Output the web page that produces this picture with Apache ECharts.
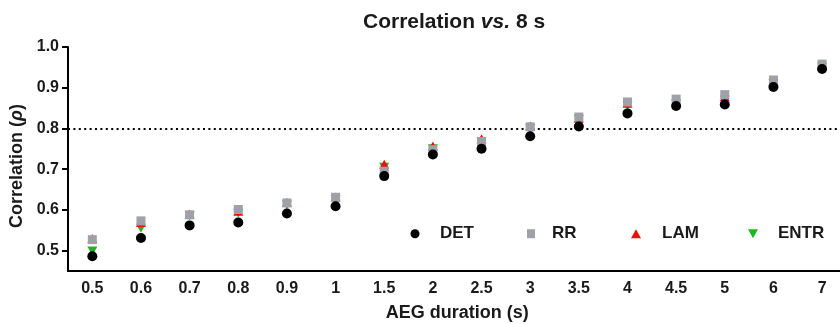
<!DOCTYPE html>
<html>
<head>
<meta charset="utf-8">
<script src="https://cdn.jsdelivr.net/npm/echarts@6/dist/echarts.min.js"></script>
<style>
  html, body { margin: 0; padding: 0; background: #fff; }
  #chart { width: 840px; height: 324px; }
</style>
</head>
<body>
<div id="chart"></div>
<script>
// AEG durations (s)
const durations = ['0.5', '0.6', '0.7', '0.8', '0.9', '1', '1.5', '2', '2.5', '3', '3.5', '4', '4.5', '5', '6', '7'];

// Correlation (rho) vs. 8 s, per measure
const detValues = [0.486, 0.531, 0.562, 0.569, 0.591, 0.609, 0.683, 0.736, 0.750, 0.781, 0.805, 0.837, 0.855, 0.859, 0.902, 0.946];
const rrValues = [0.527, 0.573, 0.588, 0.601, 0.617, 0.631, 0.695, 0.748, 0.768, 0.804, 0.828, 0.865, 0.872, 0.883, 0.919, 0.958];
const lamValues = [0.530, 0.569, 0.590, 0.597, 0.619, 0.632, 0.712, 0.757, 0.775, 0.806, 0.825, 0.862, 0.866, 0.878, 0.915, 0.955];
const entrValues = [0.499, 0.555, 0.585, 0.592, 0.612, 0.625, 0.705, 0.750, 0.768, 0.800, 0.822, 0.855, 0.860, 0.870, 0.910, 0.950];

const yTicks = [0.5, 0.6, 0.7, 0.8, 0.9, 1.0];
const threshold = 0.8;

const FONT = '"Liberation Sans", Arial, sans-serif';
const INK = '#1a1a1a';

// marker colours
const COLORS = {
  det: '#000000',
  rr: '#a0a0a8',
  lam: '#f20d0d',
  entr: '#1fb51f',
};

const DOWN_TRIANGLE = 'path://M0,0L10,0L5,9Z';

const chart = echarts.init(document.getElementById('chart'), null, { renderer: 'canvas' });

// one legend block per item so the uneven spacing can be matched;
// a blank rich-text run pushes the label away from its marker
const legendItem = (name, left, w, h, gap, icon) => ({
  data: [{ name, icon }],
  left,
  top: 229.7 - h / 2,
  padding: 0,
  itemWidth: w,
  itemHeight: h,
  selectedMode: false,
  formatter: (n) => '{g|}' + n,
  textStyle: {
    color: INK,
    fontSize: 17,
    fontWeight: 'bold',
    fontFamily: FONT,
    rich: { g: { width: gap } },
  },
});

const option = {
  backgroundColor: '#ffffff',
  animation: false,
  title: {
    text: 'Correlation {i|vs.} 8 s',
    left: 363,
    top: 12,
    padding: 0,
    textStyle: {
      color: INK,
      fontSize: 21,
      fontWeight: 'bold',
      fontFamily: FONT,
      rich: {
        i: { fontSize: 21, fontWeight: 'bold', fontStyle: 'italic', fontFamily: FONT, color: INK },
      },
    },
  },
  legend: [
    legendItem('DET', 410.5, 9, 9, 15.5, 'circle'),
    legendItem('RR', 527, 8, 9, 12, 'rect'),
    legendItem('LAM', 631, 10, 9, 16, 'triangle'),
    legendItem('ENTR', 748, 10, 9, 15, DOWN_TRIANGLE),
  ],
  grid: {
    left: 68,
    right: -6.4,
    top: 47,
    bottom: 53,
    containLabel: false,
    outerBoundsMode: 'none',
  },
  xAxis: {
    type: 'category',
    data: durations,
    boundaryGap: true,
    name: 'AEG duration (s)',
    nameLocation: 'middle',
    nameGap: 33,
    nameTextStyle: { color: INK, fontSize: 18, fontWeight: 'bold', fontFamily: FONT },
    axisLine: { lineStyle: { color: '#000', width: 2 } },
    axisTick: { alignWithLabel: true, length: 5, lineStyle: { color: '#000', width: 2 } },
    axisLabel: { color: INK, fontSize: 16, fontWeight: 'bold', fontFamily: FONT, margin: 10, interval: 0 },
    splitLine: { show: false },
  },
  yAxis: {
    type: 'value',
    min: 0.45,
    max: 1.0,
    name: 'Correlation ({i|ρ})',
    nameLocation: 'middle',
    nameGap: 39,
    nameTextStyle: {
      color: INK,
      fontSize: 18,
      fontWeight: 'bold',
      fontFamily: FONT,
      padding: [0, 14, 0, 0],
      rich: {
        i: { fontSize: 18, fontWeight: 'bold', fontStyle: 'italic', fontFamily: FONT, color: INK },
      },
    },
    axisLine: { show: true, lineStyle: { color: '#000', width: 2 } },
    axisTick: { show: true, length: 6, customValues: yTicks, lineStyle: { color: '#000', width: 2 } },
    axisLabel: {
      color: INK,
      fontSize: 16,
      fontWeight: 'bold',
      fontFamily: FONT,
      margin: 9,
      customValues: yTicks,
      formatter: (v) => v.toFixed(1),
    },
    splitLine: { show: false },
  },
  series: [
    {
      name: 'ENTR',
      type: 'scatter',
      data: entrValues,
      symbol: DOWN_TRIANGLE,
      symbolSize: [10, 9],
      itemStyle: { color: COLORS.entr, opacity: 1 },
      z: 2,
    },
    {
      name: 'LAM',
      type: 'scatter',
      data: lamValues,
      symbol: 'triangle',
      symbolSize: [10, 9],
      itemStyle: { color: COLORS.lam, opacity: 1 },
      z: 3,
    },
    {
      name: 'RR',
      type: 'scatter',
      data: rrValues,
      symbol: 'rect',
      symbolSize: 9,
      itemStyle: { color: COLORS.rr, opacity: 1 },
      z: 4,
    },
    {
      name: 'DET',
      type: 'scatter',
      data: detValues,
      symbol: 'circle',
      symbolSize: 10,
      itemStyle: { color: COLORS.det, opacity: 1 },
      z: 5,
      markLine: {
        silent: true,
        symbol: 'none',
        label: { show: false },
        lineStyle: { color: '#000', width: 2, type: [2, 3.4] },
        data: [{ yAxis: threshold }],
        z: 1,
      },
    },
  ],
};

chart.setOption(option);
</script>
</body>
</html>
